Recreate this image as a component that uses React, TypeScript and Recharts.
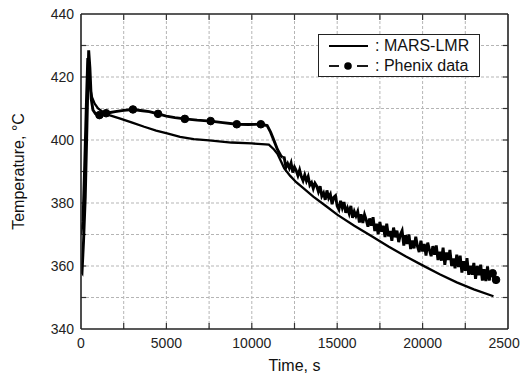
import React from 'react';
import { ComposedChart, Line, XAxis, YAxis, ReferenceLine, Legend, Label } from 'recharts';

const marsTime = [0, 100, 200, 300, 380, 450, 520, 650, 800, 1000, 1300, 1700, 2300, 3000, 3700, 4400, 5100, 5800, 6600, 7500, 8800, 10000, 10800, 11000, 11300, 11500, 11700, 11900, 12250, 12600, 13000, 13600, 14300, 15000, 16000, 17000, 18000, 19000, 20000, 21000, 22000, 23000, 24150];
const marsTemp = [370, 374, 392, 412, 426, 421, 417, 413.5, 411.5, 410, 408.8, 407.8, 406.8, 405.5, 404.2, 403, 402, 401, 400.3, 399.9, 399.2, 398.9, 398.6, 398.5, 397.0, 395.6, 393.3, 391.0, 388.6, 386.6, 384.8, 382.0, 379.2, 376.3, 372.8, 369.5, 366.2, 363.1, 360.2, 357.4, 354.8, 352.6, 350.4];

const phenixTime = [
  0, 60, 150, 250, 350, 450, 520, 600, 700, 850, 1080, 1470, 2000, 2500, 3040, 3600, 4000, 4510, 5000, 5500, 6080, 6800, 7590, 8300, 9120, 9800, 10530, 10900, 11100, 11300, 11500, 11700, 11800,
  11900, 12000, 12100, 12200, 12300, 12400, 12500, 12600, 12700, 12800, 12900, 13000, 13100, 13200, 13300, 13400, 13500, 13600, 13700, 13800, 13900, 14000,
  14100, 14200, 14300, 14400, 14500, 14600, 14700, 14800, 14900, 15000, 15100, 15200, 15300, 15400, 15500, 15600, 15700, 15800, 15900, 16000,
  16100, 16200, 16300, 16400, 16500, 16600, 16700, 16800, 16900, 17000,
  17100, 17200, 17300, 17400, 17500, 17600, 17700, 17800, 17900, 18000, 18100, 18200, 18300, 18400, 18500, 18600, 18700, 18800, 18900, 19000,
  19100, 19200, 19300, 19400, 19500, 19600, 19700, 19800, 19900, 20000, 20100, 20200, 20300, 20400, 20500, 20600, 20700, 20800, 20900, 21000,
  21100, 21200, 21300, 21400, 21500, 21600, 21700, 21800, 21900, 22000, 22100, 22200, 22300, 22400, 22500, 22600, 22700, 22800, 22900, 23000,
  23100, 23200, 23300, 23400, 23500, 23600, 23700, 23800, 23900, 24000, 24100, 24200, 24300
];
const phenixTemp = [
  358.5, 358, 368, 382, 405, 428.5, 423, 413, 409.5, 408.3, 407.9, 408.5, 409.0, 409.4, 409.7, 409.3, 409.0, 408.3, 407.6, 407.1, 406.7, 406.3, 406.0, 405.5, 405.0, 404.9, 405.0, 404.6, 402.5, 399.8, 397.0, 395.0, 394.5,
  394.4, 391.3, 392.5, 391.1, 392.7, 389.7, 391.4, 390.3, 388.7, 390.5, 388.4, 387.1, 388.9, 387.0, 388.4, 385.7, 386.5, 384.6, 386.3, 385.4, 383.6, 385.3,
  382.2, 383.2, 381.0, 384.0, 381.6, 382.7, 379.6, 381.8, 382.3, 379.0, 377.9, 380.7, 378.5, 380.3, 376.9, 378.4, 376.7, 379.1, 375.3, 377.3,
  375.9, 377.3, 373.8, 376.4, 373.7, 376.3, 374.6, 372.5, 375.1, 372.8,
  375.5, 371.1, 373.4, 370.1, 374.0, 370.9, 372.8, 369.2, 373.4, 369.4, 371.1, 368.0, 372.2, 369.1, 371.2, 367.6, 370.0, 371.2, 366.5, 369.8,
  367.0, 370.0, 365.4, 368.1, 365.6, 369.3, 366.2, 364.4, 368.0, 364.6, 367.0, 363.3, 367.4, 365.1, 363.1, 366.3, 363.6, 366.5, 361.9, 364.5,
  361.7, 365.8, 360.4, 364.3, 361.9, 365.1, 360.0, 362.4, 359.3, 363.6, 359.7, 363.3, 357.9, 361.5, 358.5, 362.5, 357.2, 360.1, 357.2, 361.0,
  355.9, 360.0, 357.1, 360.4, 355.4, 359.0, 355.2, 359.9, 355.4, 357.9, 357.7, 355.2, 355.6
];
const phenixMarkerTimes = [1080, 1470, 3040, 4510, 6080, 7590, 9120, 10530, 24100, 24300];

const xTicks = [0, 2500, 5000, 7500, 10000, 12500, 15000, 17500, 20000, 22500, 25000];
const xLabelTicks = [0, 5000, 10000, 15000, 20000, 25000];
const yTicks = [340, 350, 360, 370, 380, 390, 400, 410, 420, 430, 440];
const yLabelTicks = [340, 360, 380, 400, 420, 440];

const marsData = marsTime.map((t, i) => ({ t, v: marsTemp[i] }));
const phenixAll = phenixTime.map((t, i) => ({ t, v: phenixTemp[i], marker: phenixMarkerTimes.includes(t) }));
const phenixEarly = phenixAll.filter((d) => d.t <= 11800);
const phenixLate = phenixAll.filter((d) => d.t >= 11800);

const X_MIN = 0;
const X_MAX = 25000;
const Y_MIN = 340;
const Y_MAX = 440;
const V_TICK_LEN = 1.9;
const H_TICK_LEN = 300;

const FONT = "'Liberation Sans', Arial, Helvetica, sans-serif";
const AXIS = '#222';
const TICK = '#333';
const GRID = '#b5b5b5';
const INK = '#000';

const BottomLabel = (props: any) => {
  const { x, y, payload } = props;
  const v = Number(payload.value);
  if (!xLabelTicks.includes(v)) return <g />;
  return (
    <text x={Number(x)} y={Number(y) + 19} textAnchor="middle" fontSize={14} fontFamily={FONT} fill="#222">{v}</text>
  );
};

const LeftLabel = (props: any) => {
  const { x, y, payload } = props;
  const v = Number(payload.value);
  if (!yLabelTicks.includes(v)) return <g />;
  return (
    <text x={Number(x) - 7} y={Number(y) + 5} textAnchor="end" fontSize={14} fontFamily={FONT} fill="#222">{v}</text>
  );
};

const PhenixDot = (props: any) => {
  const { cx, cy, payload, index } = props;
  if (!payload || !payload.marker) return <g key={`e${index}`} />;
  return <circle key={`m${index}`} cx={cx} cy={cy} r={3.8} fill={INK} stroke={INK} />;
};

const LegendBox = () => (
  <div
    style={{
      boxSizing: 'border-box',
      width: 162,
      height: 43,
      border: '1px solid #222',
      background: '#fff',
      fontFamily: FONT,
      fontSize: 16,
      color: '#111',
      padding: '1px 0 0 9px',
      lineHeight: '20px',
    }}
  >
    <div style={{ display: 'flex', alignItems: 'center', height: 20 }}>
      <svg width={47} height={20}>
        <line x1={1} x2={40} y1={10} y2={10} stroke={INK} strokeWidth={1.8} />
      </svg>
      <span>: MARS-LMR</span>
    </div>
    <div style={{ display: 'flex', alignItems: 'center', height: 20 }}>
      <svg width={47} height={20}>
        <line x1={1} x2={11} y1={10} y2={10} stroke={INK} strokeWidth={1.8} />
        <circle cx={20} cy={10} r={3.8} fill={INK} />
        <line x1={29} x2={40} y1={10} y2={10} stroke={INK} strokeWidth={1.8} />
      </svg>
      <span>: Phenix data</span>
    </div>
  </div>
);

export default function App() {
  const innerX = xTicks.slice(1, -1);
  const innerY = yTicks.slice(1, -1);
  return (
    <ComposedChart width={520} height={369} margin={{ top: 6, right: 20, bottom: 0, left: 0 }}>
      <XAxis
        dataKey="t"
        type="number"
        domain={[X_MIN, X_MAX]}
        ticks={xTicks}
        interval={0}
        height={48}
        tickSize={0}
        tickMargin={0}
        tickLine={false}
        tick={<BottomLabel />}
        axisLine={{ stroke: AXIS, strokeWidth: 1.6 }}
        allowDataOverflow
      >
        <Label value="Time, s" position="insideBottom" offset={6} style={{ fontFamily: FONT, fontSize: 16, fill: '#111' }} />
      </XAxis>
      <YAxis
        type="number"
        domain={[Y_MIN, Y_MAX]}
        ticks={yTicks}
        interval={0}
        width={73}
        tickSize={0}
        tickMargin={0}
        tickLine={false}
        tick={<LeftLabel />}
        axisLine={{ stroke: AXIS, strokeWidth: 1.6 }}
        allowDataOverflow
      >
        <Label
          value="Temperature, °C"
          angle={-90}
          position="insideLeft"
          offset={10}
          style={{ textAnchor: 'middle', fontFamily: FONT, fontSize: 16, fill: '#111' }}
        />
      </YAxis>
      {innerX.map((v) => (
        <ReferenceLine key={`gx${v}`} x={v} stroke={GRID} strokeDasharray="3 2" strokeWidth={1} />
      ))}
      {innerY.map((v) => (
        <ReferenceLine key={`gy${v}`} y={v} stroke={GRID} strokeDasharray="3 2" strokeWidth={1} />
      ))}
      <ReferenceLine y={Y_MAX} stroke={AXIS} strokeWidth={1.6} />
      <ReferenceLine x={X_MAX} stroke={AXIS} strokeWidth={1.6} />
      {innerX.map((v) => (
        <ReferenceLine key={`tt${v}`} segment={[{ x: v, y: Y_MAX }, { x: v, y: Y_MAX - V_TICK_LEN }]} stroke={TICK} strokeWidth={1.2} />
      ))}
      {innerX.map((v) => (
        <ReferenceLine key={`bt${v}`} segment={[{ x: v, y: Y_MIN }, { x: v, y: Y_MIN + V_TICK_LEN }]} stroke={TICK} strokeWidth={1.2} />
      ))}
      {innerY.map((v) => (
        <ReferenceLine key={`rt${v}`} segment={[{ x: X_MAX, y: v }, { x: X_MAX - H_TICK_LEN, y: v }]} stroke={TICK} strokeWidth={1.2} />
      ))}
      {innerY.map((v) => (
        <ReferenceLine key={`lt${v}`} segment={[{ x: X_MIN, y: v }, { x: X_MIN + H_TICK_LEN, y: v }]} stroke={TICK} strokeWidth={1.2} />
      ))}
      <Legend
        layout="vertical"
        align="center"
        verticalAlign="middle"
        content={<LegendBox />}
        wrapperStyle={{ left: 310, top: 26, width: 162, height: 43 }}
      />
      <Line data={marsData} dataKey="v" name="MARS-LMR" type="linear" stroke={INK} strokeWidth={2.3} dot={false} activeDot={false} isAnimationActive={false} />
      <Line data={phenixEarly} dataKey="v" name="Phenix data" type="linear" stroke={INK} strokeWidth={2.9} dot={PhenixDot} activeDot={false} isAnimationActive={false} />
      <Line data={phenixLate} dataKey="v" name="Phenix late" legendType="none" type="linear" stroke={INK} strokeWidth={2.9} dot={PhenixDot} activeDot={false} isAnimationActive={false} />
    </ComposedChart>
  );
}
